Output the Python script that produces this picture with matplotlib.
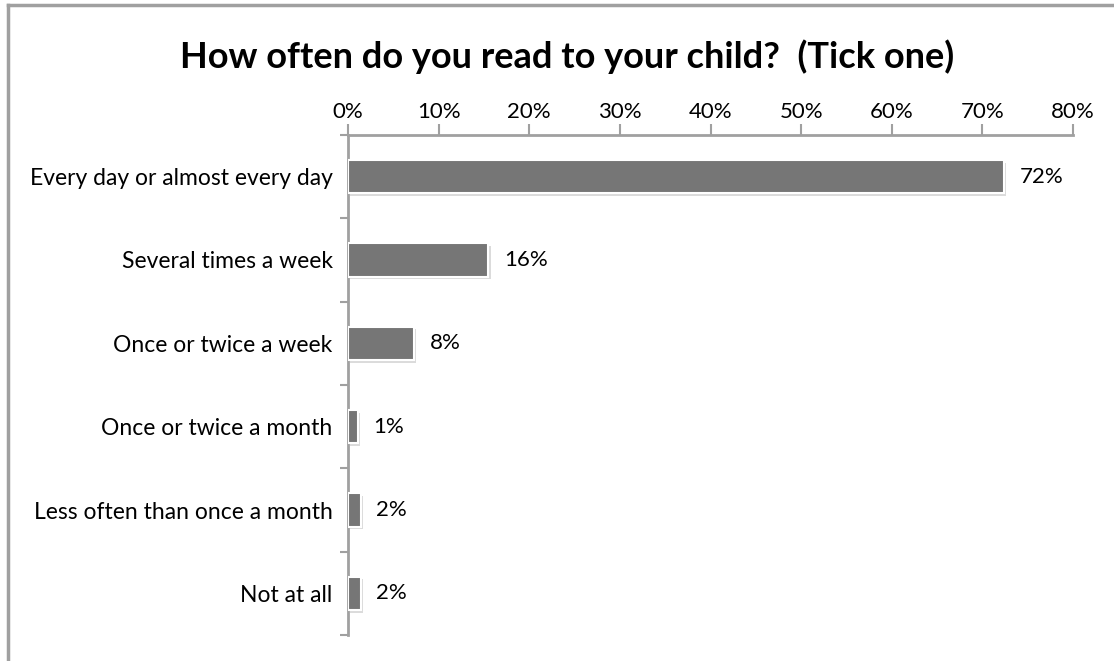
import numpy as np
import matplotlib
matplotlib.use('Agg')
import matplotlib.pyplot as plt
import matplotlib.patheffects as pe
from matplotlib.lines import Line2D

plt.rcParams['font.family'] = ['Lato', 'DejaVu Sans']

categories = ["Every day or almost every day", "Several times a week",
              "Once or twice a week", "Once or twice a month",
              "Less often than once a month", "Not at all"]
values = [72.4, 15.5, 7.3, 1.1, 1.4, 1.4]
value_labels = ["72%", "16%", "8%", "1%", "2%", "2%"]
xticks = [0, 10, 20, 30, 40, 50, 60, 70, 80]

AXIS_GRAY = '#a0a0a0'

fig = plt.figure(figsize=(11.14, 6.61), dpi=100)
ax = fig.add_axes([0.3124, 0.0393, 0.6508, 0.7565])

y = np.arange(len(categories))
bars = ax.barh(y, values, height=0.4, color='#767676', edgecolor='white',
               linewidth=1.5, zorder=3)
for b in bars:
    b.set_path_effects([pe.SimplePatchShadow(offset=(1.5, -2), shadow_rgbFace='#888888', alpha=0.3),
                        pe.Normal()])

for yi, v, lab in zip(y, values, value_labels):
    ax.text(v + 1.7, yi, lab, va='center', ha='left', fontsize=16, color='black')

ax.set_xlim(0, 80)
ax.set_ylim(len(categories) - 0.5, -0.5)
ax.xaxis.tick_top()
ax.set_xticks(xticks)
ax.set_xticklabels([f"{t}%" for t in xticks], fontsize=16)
ax.set_yticks(y)
ax.set_yticklabels(categories, fontsize=16.5)
ax.set_yticks(np.arange(len(categories) + 1) - 0.5, minor=True)

ax.tick_params(axis='x', which='major', length=8, width=1.5, color=AXIS_GRAY, pad=1)
ax.tick_params(axis='y', which='major', length=0, pad=11)
ax.tick_params(axis='y', which='minor', length=6, width=1.5, color=AXIS_GRAY)

for side in ['right', 'bottom']:
    ax.spines[side].set_visible(False)
for side in ['top', 'left']:
    ax.spines[side].set_color(AXIS_GRAY)
    ax.spines[side].set_linewidth(2)

fig.text(0.509, 0.914, "How often do you read to your child?  (Tick one)",
         ha='center', va='center', fontsize=26, fontweight='bold')

# outer chart border (top and left visible)
fig.add_artist(Line2D([8 / 1114, 1.0], [1 - 5 / 661, 1 - 5 / 661],
                      transform=fig.transFigure, color=AXIS_GRAY, lw=2.5))
fig.add_artist(Line2D([8 / 1114, 8 / 1114], [0, 1 - 5 / 661],
                      transform=fig.transFigure, color=AXIS_GRAY, lw=2.5))

fig.savefig('out.png', dpi=100)
